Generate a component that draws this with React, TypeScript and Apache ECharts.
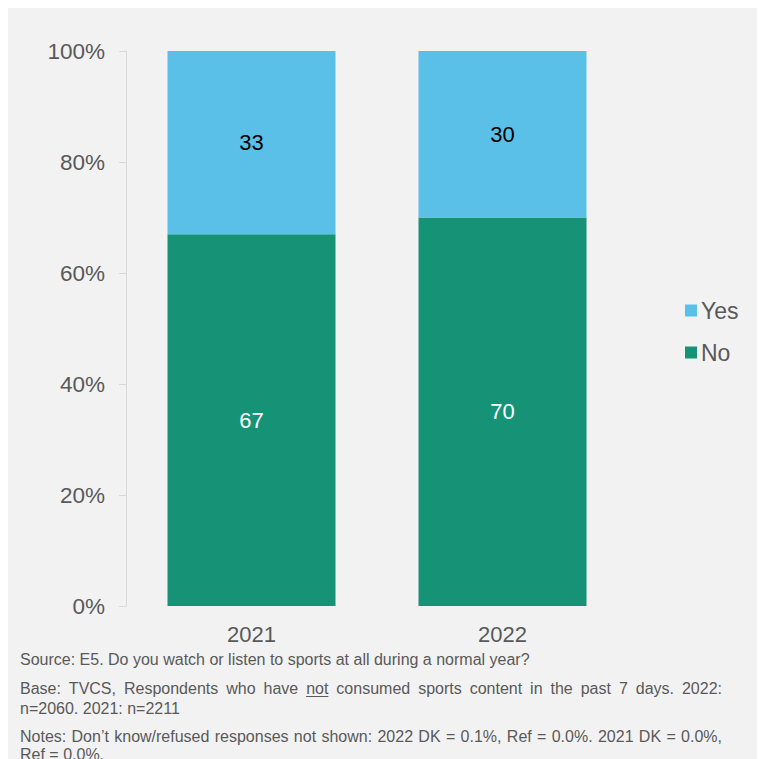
import React, { useEffect, useRef } from "react";
import * as echarts from "echarts";

const categories = ["2021", "2022"];
const noValues = [67, 70];
const yesValues = [33, 30];
const yTicks = [0, 20, 40, 60, 80, 100];
const sourceLine = "Source: E5. Do you watch or listen to sports at all during a normal year?";
const baseLine1 = "Base: TVCS, Respondents who have not consumed sports content in the past 7 days. 2022:";
const baseLine2 = "n=2060. 2021: n=2211";
const notesLine1 = "Notes: Don’t know/refused responses not shown: 2022 DK = 0.1%, Ref = 0.0%. 2021 DK = 0.0%,";
const notesLine2 = "Ref = 0.0%.";

const FONT_FAMILY = '"Liberation Sans", Arial, sans-serif';
const TEXT_COLOR = "#595959";
const FOOT_SIZE = 16;

function measure(text: string, size: number) {
  const c = document.createElement("canvas").getContext("2d")!;
  c.font = `${size}px ${FONT_FAMILY}`;
  return c.measureText(text).width;
}

function justified(line: string, x: number, y: number, width: number, underlineWord?: string) {
  const words = line.split(" ");
  const widths = words.map((w) => measure(w, FOOT_SIZE));
  const total = widths.reduce((a, b) => a + b, 0);
  const gap = Math.max((width - total) / (words.length - 1), measure(" ", FOOT_SIZE) * 0.7);
  const els: any[] = [];
  let cx = x;
  words.forEach((w, i) => {
    els.push({
      type: "text",
      x: cx,
      y,
      style: { text: w, fill: TEXT_COLOR, fontSize: FOOT_SIZE, fontFamily: FONT_FAMILY, verticalAlign: "middle" },
    });
    if (underlineWord && w === underlineWord) {
      els.push({
        type: "line",
        shape: { x1: cx, y1: y + 8.5, x2: cx + widths[i], y2: y + 8.5 },
        style: { stroke: TEXT_COLOR, lineWidth: 1 },
      });
    }
    cx += widths[i] + gap;
  });
  return els;
}

function plain(text: string, x: number, y: number) {
  return {
    type: "text",
    x,
    y,
    style: { text, fill: TEXT_COLOR, fontSize: FOOT_SIZE, fontFamily: FONT_FAMILY, verticalAlign: "middle" },
  };
}

export default function App() {
  const ref = useRef<HTMLDivElement>(null);
  useEffect(() => {
    document.body.style.overflow = "hidden";
    const chart = echarts.init(ref.current!, null, { renderer: "svg" });
    const fx = 12;
    const fw = 702;
    const graphic: any[] = [
      plain(sourceLine, fx, 651),
      ...justified(baseLine1, fx, 680, fw, "not"),
      plain(baseLine2, fx, 700),
      ...justified(notesLine1, fx, 728, fw),
      plain(notesLine2, fx, 746),
    ];
    chart.setOption({
      animation: false,
      backgroundColor: "#f2f2f2",
      textStyle: { fontFamily: FONT_FAMILY },
      grid: { left: 118, right: 137, top: 43, bottom: 153 },
      legend: {
        data: ["Yes", "No"],
        orient: "vertical",
        left: 672,
        top: 286,
        itemWidth: 12,
        itemHeight: 12,
        itemGap: 19,
        icon: "rect",
        textStyle: { fontSize: 23, color: TEXT_COLOR, padding: [0, 0, 0, -1] },
      },
      xAxis: {
        type: "category",
        data: categories,
        axisLine: { show: false },
        axisTick: { show: false },
        axisLabel: { fontSize: 22, color: TEXT_COLOR, margin: 17 },
      },
      yAxis: {
        type: "value",
        min: yTicks[0],
        max: yTicks[yTicks.length - 1],
        interval: 20,
        axisLine: { show: true, lineStyle: { color: "#d9d9d9" } },
        axisTick: { show: true, length: 7, lineStyle: { color: "#d9d9d9" } },
        splitLine: { show: false },
        axisLabel: { fontSize: 22.5, color: TEXT_COLOR, margin: 21, formatter: "{value}%" },
      },
      series: [
        {
          name: "No",
          type: "bar",
          stack: "total",
          data: noValues,
          barWidth: 168,
          itemStyle: { color: "#169377" },
          label: { show: true, position: "inside", fontSize: 22, color: "#ffffff" },
        },
        {
          name: "Yes",
          type: "bar",
          stack: "total",
          data: yesValues,
          barWidth: 168,
          itemStyle: { color: "#5bc0e8" },
          label: { show: true, position: "inside", fontSize: 22, color: "#000000" },
        },
      ],
      graphic,
    });
    return () => chart.dispose();
  }, []);
  return <div ref={ref} style={{ width: 757, height: 751 }} />;
}
